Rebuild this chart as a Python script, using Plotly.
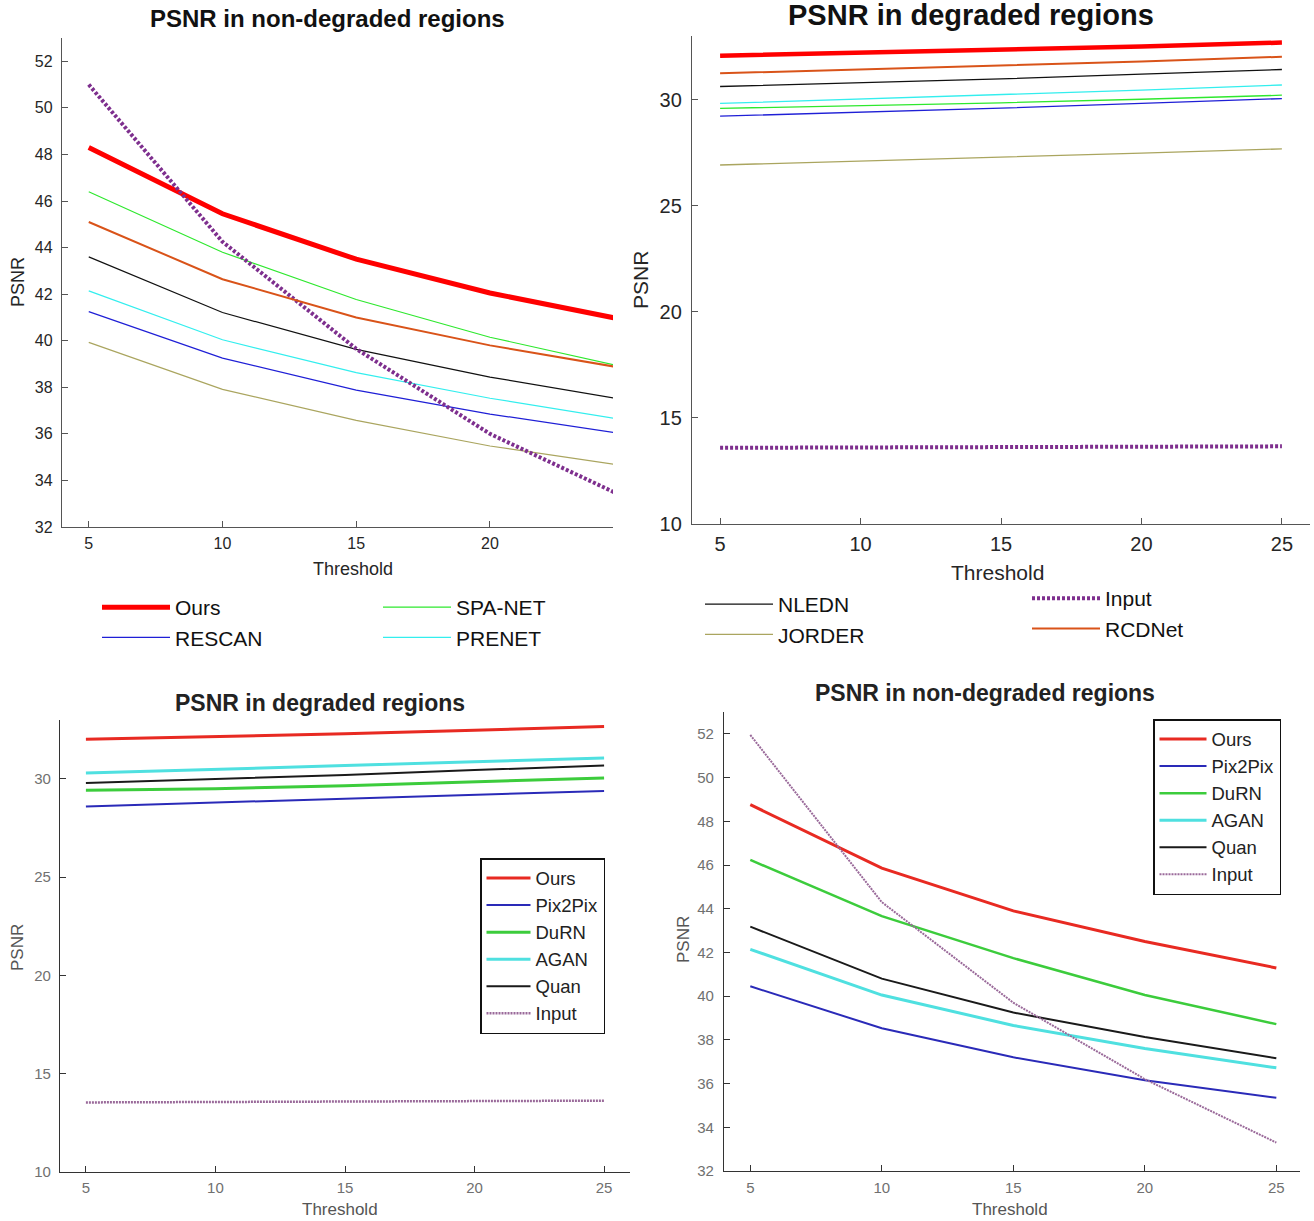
import plotly.graph_objects as go

W, H = 1314, 1221

thresholds = [5, 10, 15, 20, 25]

# ---- Top-left: PSNR in non-degraded regions ----
tl_ours = [48.3, 45.45, 43.5, 42.05, 40.9]
tl_rescan = [41.25, 39.25, 37.88, 36.85, 36.0]
tl_spanet = [46.4, 43.8, 41.77, 40.15, 38.87]
tl_prenet = [42.14, 40.04, 38.63, 37.53, 36.6]
tl_nledn = [43.6, 41.21, 39.63, 38.44, 37.47]
tl_jorder = [39.93, 37.91, 36.58, 35.48, 34.63]
tl_input = [51.0, 44.25, 39.65, 36.0, 33.3]
tl_rcdnet = [45.1, 42.64, 41.0, 39.8, 38.82]

# ---- Top-right: PSNR in degraded regions ----
tr_ours = [32.07, 32.2, 32.35, 32.5, 32.69]
tr_rescan = [29.22, 29.4, 29.6, 29.82, 30.05]
tr_spanet = [29.59, 29.72, 29.85, 30.02, 30.21]
tr_prenet = [29.82, 30.02, 30.22, 30.45, 30.69]
tr_nledn = [30.62, 30.8, 30.98, 31.2, 31.42]
tr_jorder = [26.92, 27.1, 27.28, 27.48, 27.68]
tr_input = [13.59, 13.6, 13.62, 13.64, 13.66]
tr_rcdnet = [31.24, 31.42, 31.6, 31.8, 32.02]

# ---- Bottom-left: PSNR in degraded regions ----
bl_ours = [32.02, 32.15, 32.3, 32.48, 32.67]
bl_pix2pix = [28.6, 28.8, 29.0, 29.2, 29.39]
bl_durn = [29.42, 29.5, 29.66, 29.86, 30.05]
bl_agan = [30.3, 30.48, 30.68, 30.88, 31.07]
bl_quan = [29.79, 29.98, 30.2, 30.45, 30.68]
bl_input = [13.54, 13.56, 13.58, 13.6, 13.63]

# ---- Bottom-right: PSNR in non-degraded regions ----
br_ours = [48.76, 45.86, 43.9, 42.5, 41.29]
br_pix2pix = [40.45, 38.53, 37.2, 36.15, 35.35]
br_durn = [46.23, 43.66, 41.74, 40.05, 38.72]
br_agan = [42.14, 40.05, 38.66, 37.6, 36.72]
br_quan = [43.18, 40.8, 39.25, 38.13, 37.16]
br_input = [51.95, 44.3, 39.7, 36.2, 33.3]

FONT = "Liberation Sans, Arial, sans-serif"
NARROW = "Liberation Sans Narrow, Arial Narrow, Liberation Sans, Arial, sans-serif"


def dx(a, b):
    return [a / W, b / W]


def dy(top, bottom):
    return [1 - bottom / H, 1 - top / H]


fig = go.Figure()


def add(x, y, name, color, width, dash, xa, ya, legend=None, show=False):
    fig.add_trace(go.Scatter(
        x=x, y=y, name=name, mode="lines",
        line=dict(color=color, width=width, dash=dash),
        xaxis=xa, yaxis=ya, showlegend=show,
        legend=legend if legend else "legend",
        hoverinfo="skip",
    ))


# top styles
C_OURS = "#ff0000"
C_RESCAN = "#1f1fd6"
C_SPA = "#2ee82e"
C_PRE = "#33eeee"
C_NLEDN = "#111111"
C_JORDER = "#aaa55f"
C_INPUT = "#7e2f8e"
C_RCD = "#d95319"

# Top-left panel (x, y)
add(thresholds, tl_ours, "Ours", C_OURS, 5, "solid", "x", "y", "legend", True)
add(thresholds, tl_rescan, "RESCAN", C_RESCAN, 1.2, "solid", "x", "y", "legend", True)
add(thresholds, tl_spanet, "SPA-NET", C_SPA, 1.2, "solid", "x", "y", "legend2", True)
add(thresholds, tl_prenet, "PRENET", C_PRE, 1.2, "solid", "x", "y", "legend2", True)
add(thresholds, tl_nledn, "NLEDN", C_NLEDN, 1.2, "solid", "x", "y", "legend3", True)
add(thresholds, tl_jorder, "JORDER", C_JORDER, 1.2, "solid", "x", "y", "legend3", True)
add(thresholds, tl_input, "Input", C_INPUT, 4, "3px,2px", "x", "y", "legend4", True)
add(thresholds, tl_rcdnet, "RCDNet", C_RCD, 2, "solid", "x", "y", "legend4", True)

# Top-right panel (x2, y2)
add(thresholds, tr_ours, "Ours", C_OURS, 4.5, "solid", "x2", "y2")
add(thresholds, tr_rescan, "RESCAN", C_RESCAN, 1.3, "solid", "x2", "y2")
add(thresholds, tr_spanet, "SPA-NET", C_SPA, 1.3, "solid", "x2", "y2")
add(thresholds, tr_prenet, "PRENET", C_PRE, 1.3, "solid", "x2", "y2")
add(thresholds, tr_nledn, "NLEDN", C_NLEDN, 1.3, "solid", "x2", "y2")
add(thresholds, tr_jorder, "JORDER", C_JORDER, 1.3, "solid", "x2", "y2")
add(thresholds, tr_input, "Input", C_INPUT, 4, "3px,2px", "x2", "y2")
add(thresholds, tr_rcdnet, "RCDNet", C_RCD, 2, "solid", "x2", "y2")

# bottom styles
B_OURS = "#e82a22"
B_PIX = "#2a2ab8"
B_DURN = "#3ccc3c"
B_AGAN = "#4fe0e0"
B_QUAN = "#1a1a1a"
B_INPUT = "#9a6a9a"

# Bottom-left panel (x3, y3)
add(thresholds, bl_ours, "Ours", B_OURS, 3, "solid", "x3", "y3", "legend5", True)
add(thresholds, bl_pix2pix, "Pix2Pix", B_PIX, 2, "solid", "x3", "y3", "legend5", True)
add(thresholds, bl_durn, "DuRN", B_DURN, 3, "solid", "x3", "y3", "legend5", True)
add(thresholds, bl_agan, "AGAN", B_AGAN, 3, "solid", "x3", "y3", "legend5", True)
add(thresholds, bl_quan, "Quan", B_QUAN, 2, "solid", "x3", "y3", "legend5", True)
add(thresholds, bl_input, "Input", B_INPUT, 2.5, "2px,1px", "x3", "y3", "legend5", True)

# Bottom-right panel (x4, y4)
add(thresholds, br_ours, "Ours", B_OURS, 3, "solid", "x4", "y4", "legend6", True)
add(thresholds, br_pix2pix, "Pix2Pix", B_PIX, 2, "solid", "x4", "y4", "legend6", True)
add(thresholds, br_durn, "DuRN", B_DURN, 2.5, "solid", "x4", "y4", "legend6", True)
add(thresholds, br_agan, "AGAN", B_AGAN, 3, "solid", "x4", "y4", "legend6", True)
add(thresholds, br_quan, "Quan", B_QUAN, 2, "solid", "x4", "y4", "legend6", True)
add(thresholds, br_input, "Input", B_INPUT, 2, "2px,1px", "x4", "y4", "legend6", True)


def axis(domain, rng, dtick, anchor, size, color, lcolor, standoff):
    return dict(
        domain=domain, range=rng, dtick=dtick, tick0=0, anchor=anchor,
        showline=True, linecolor=lcolor, linewidth=1.3, mirror=False,
        ticks="inside", ticklen=6, tickwidth=1, tickcolor=lcolor,
        showgrid=False, zeroline=False, ticklabelstandoff=standoff,
        automargin=False,
        tickfont=dict(family=FONT, size=size, color=color),
    )


layout = dict(
    width=W, height=H,
    margin=dict(l=0, r=0, t=0, b=0, pad=0, autoexpand=False),
    paper_bgcolor="white", plot_bgcolor="white",
    font=dict(family=FONT, color="#1a1a1a"),
    hovermode=False,
    xaxis=axis(dx(62, 613), [4, 24.6], 5, "y", 16, "#262626", "#555555", 2),
    yaxis=axis(dy(38, 527), [32, 53], 2, "x", 16, "#262626", "#555555", 5),
    xaxis2=axis(dx(692, 1310), [4, 26], 5, "y2", 20, "#262626", "#555555", 2),
    yaxis2=axis(dy(36, 524), [10, 33], 5, "x2", 20, "#262626", "#555555", 5),
    xaxis3=axis(dx(60, 630), [4, 26], 5, "y3", 15, "#707070", "#333333", 2),
    yaxis3=axis(dy(720, 1172), [10, 33], 5, "x3", 15, "#707070", "#333333", 5),
    xaxis4=axis(dx(724, 1300), [4, 25.9], 5, "y4", 15, "#707070", "#333333", 3),
    yaxis4=axis(dy(712, 1171), [32, 53], 2, "x4", 15, "#707070", "#333333", 6),
)

top_leg = dict(font=dict(family=NARROW, size=21, color="#111111"),
               bgcolor="rgba(0,0,0,0)", borderwidth=0,
               xanchor="left", yanchor="top", itemwidth=68,
               tracegroupgap=0, itemclick=False)
layout["legend"] = dict(top_leg, x=97 / W, y=1 - 587 / H)
layout["legend2"] = dict(top_leg, x=378 / W, y=1 - 587 / H)
layout["legend3"] = dict(top_leg, x=700 / W, y=1 - 584 / H)
layout["legend4"] = dict(top_leg, x=1027 / W, y=1 - 578 / H)

bot_leg = dict(font=dict(family=FONT, size=18.5, color="#222222"),
               bgcolor="white", borderwidth=1.5, bordercolor="#111111",
               xanchor="left", yanchor="top",
               tracegroupgap=0, itemclick=False)
layout["legend5"] = dict(bot_leg, x=480 / W, y=1 - 858 / H, itemwidth=44)
layout["legend6"] = dict(bot_leg, x=1153 / W, y=1 - 719 / H, itemwidth=47)

fig.update_layout(**layout)


def ann(text, x, y, size, bold=False, angle=0, color="#111111"):
    fig.add_annotation(
        text=f"<b>{text}</b>" if bold else text,
        x=x / W, y=1 - y / H, xref="paper", yref="paper",
        xanchor="center", yanchor="middle", showarrow=False,
        textangle=angle, font=dict(family=FONT, size=size, color=color),
    )


# titles
ann("PSNR in non-degraded regions", 327, 18, 24, bold=True)
ann("PSNR in degraded regions", 971, 15, 29, bold=True)
ann("PSNR in degraded regions", 320, 703, 23, bold=True, color="#222222")
ann("PSNR in non-degraded regions", 985, 693, 23, bold=True, color="#222222")

# axis titles
ann("Threshold", 353, 569, 18, color="#262626")
ann("PSNR", 18, 282, 18, angle=-90, color="#262626")
ann("Threshold", 997, 572, 21, color="#262626")
ann("PSNR", 640, 280, 21, angle=-90, color="#262626")
ann("Threshold", 340, 1209, 17, color="#555555")
ann("PSNR", 17, 948, 17, angle=-90, color="#555555")
ann("Threshold", 1010, 1209, 17, color="#555555")
ann("PSNR", 683, 940, 17, angle=-90, color="#555555")

post = """
document.documentElement.style.margin='0';
document.documentElement.style.overflow='hidden';
document.body.style.margin='0';
document.body.style.overflow='hidden';
"""

fig.write_html("out.html", post_script=post, config={"displayModeBar": False})
